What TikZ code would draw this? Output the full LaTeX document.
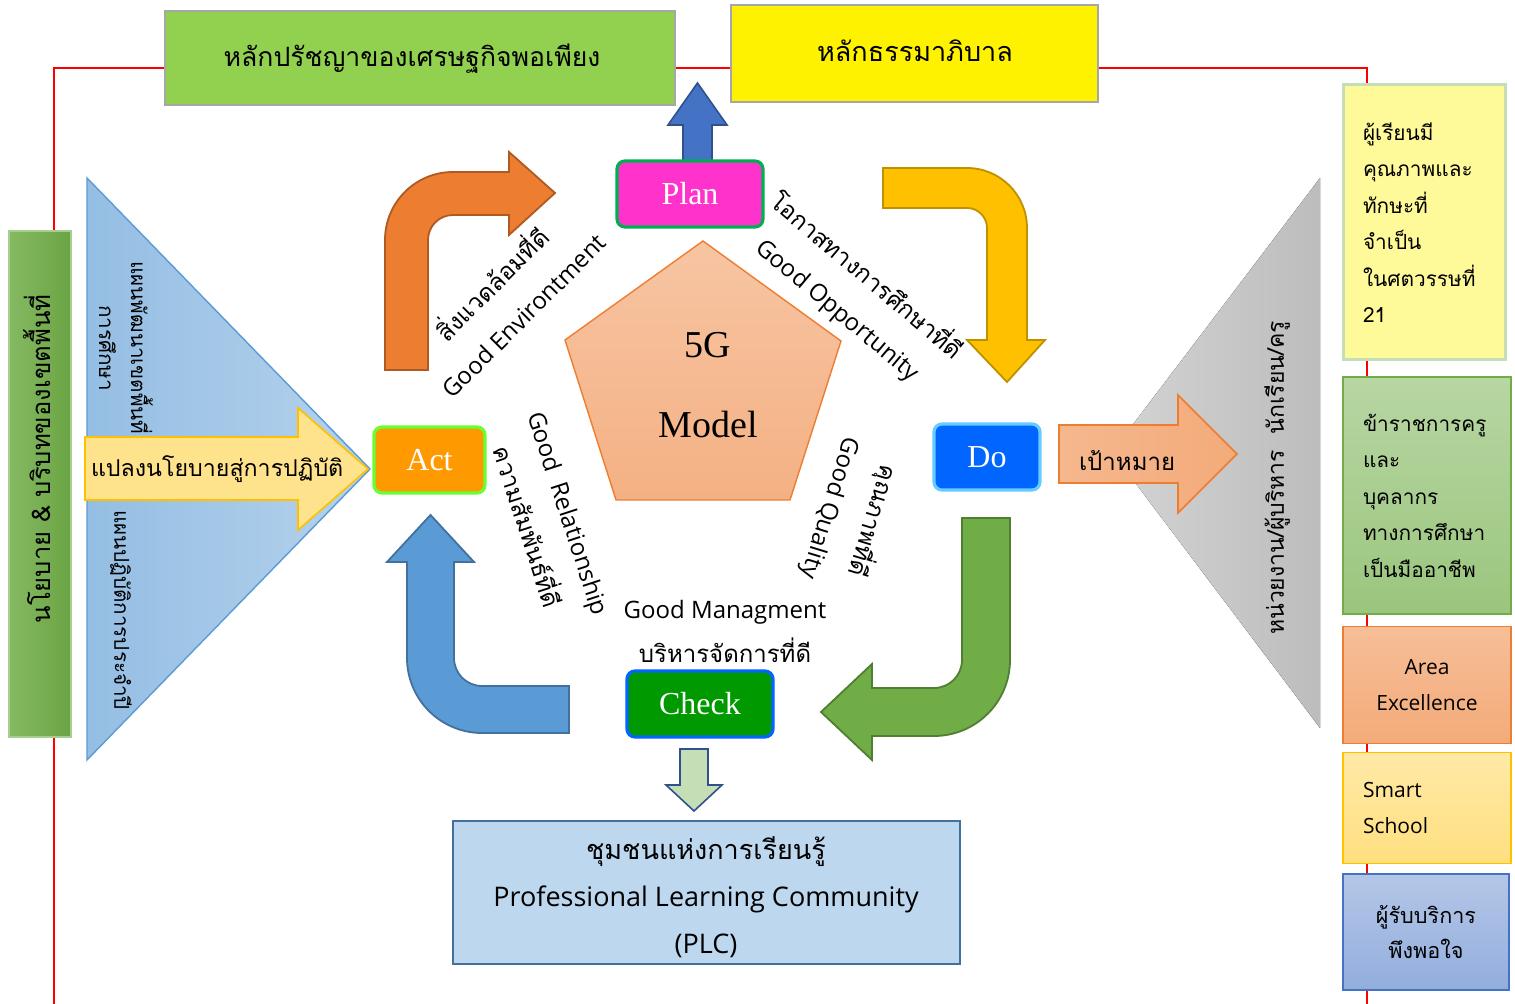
\documentclass[tikz,border=0pt]{standalone}
\usepackage{fontspec}
\setmainfont{Liberation Serif}
\newfontfamily\thaif[Script=Thai]{Loma}
\newfontfamily\latf{Open Sans}
\newcommand\myfs[2]{\fontsize{#1}{#2}\selectfont}
\usetikzlibrary{shapes.geometric}
\definecolor{topgreen}{HTML}{92D050}
\definecolor{boxgray}{HTML}{A6A6A6}
\definecolor{redline}{HTML}{FF0000}
\definecolor{plancol}{HTML}{FF33CC}
\definecolor{planbd}{HTML}{00B050}
\definecolor{actcol}{HTML}{FF9900}
\definecolor{actbd}{HTML}{66FF33}
\definecolor{docol}{HTML}{0066FF}
\definecolor{dobd}{HTML}{66CCFF}
\definecolor{checkcol}{HTML}{009900}
\definecolor{checkbd}{HTML}{0066FF}
\definecolor{orA}{HTML}{ED7D31}
\definecolor{orB}{HTML}{AE5A21}
\definecolor{yeA}{HTML}{FFC000}
\definecolor{yeB}{HTML}{BF9000}
\definecolor{grA}{HTML}{70AD47}
\definecolor{grB}{HTML}{507E32}
\definecolor{blA}{HTML}{5B9BD5}
\definecolor{blB}{HTML}{41719C}
\definecolor{buA}{HTML}{4472C4}
\definecolor{buB}{HTML}{2F528F}
\begin{document}
\begin{tikzpicture}[x=0.5pt,y=-0.5pt,
  every node/.style={inner sep=0pt, outer sep=0pt},
  tbox/.style={draw=boxgray, line width=0.8pt},
  pdca/.style={rounded corners=4pt, line width=1.6pt, text=white, font=\myfs{16}{18}},
  lab/.style={align=center, font=\myfs{12}{22}},
  thl/.style={font=\thaif\myfs{#1}{#1}},
  bent/.style={line width=0.9pt}
]
\useasboundingbox (0,0) rectangle (1515,1004);
\fill[white] (0,0) rectangle (1515,1004);

% red frame
\draw[redline, line width=1.1pt] (54,1004) -- (54,68) -- (1367,68) -- (1367,1004);

% top boxes
\node[tbox, fill=topgreen, minimum width=255pt, minimum height=47pt] (phil) at (420,58) {};
\node[thl=13.3] (philt) at (412,59) {หลักปรัชญาของเศรษฐกิจพอเพียง};
\node[tbox, fill=yellow, minimum width=183.5pt, minimum height=48.5pt] (gov) at (914.5,53.5) {};
\node[thl=13.5] (govt) at (915,51) {หลักธรรมาภิบาล};

% left green bar
\node[draw=grA!60, line width=0.8pt, left color=grA!85, right color=grA!95!black, minimum width=31pt, minimum height=253pt] (bar) at (40,484) {};
\node[rotate=90, thl=12.8] (bart) at (37,459) {นโยบาย \& บริบทของเขตพื้นที่};

% left blue triangle
\draw[draw=blA, line width=0.7pt, left color=blA!65, right color=blA!45] (87,178) -- (370,469) -- (87,760) -- cycle;
\node[rotate=-90, align=center, font=\thaif\myfs{10.3}{16}] (lt1) at (126,348) {แผนพัฒนาเขตพื้นที่\\การศึกษา};
\node[rotate=-90, thl=10.3] (lt2) at (121,610) {แผนปฏิบัติการประจำปี};

% yellow arrow in triangle
\draw[draw=yeA, line width=0.8pt, fill=yeA!45] (85,437) -- (298,437) -- (298,408) -- (368,469) -- (298,530) -- (298,500) -- (85,500) -- cycle;
\node[anchor=west, thl=11.6] (pol) at (91,469) {แปลงนโยบายสู่การปฏิบัติ};

% right gray triangle
\fill[left color=black!17, right color=black!26] (1112,452) -- (1320,178) -- (1320,728) -- cycle;
\node[rotate=90, thl=11.5] (rt) at (1277,478) {หน่วยงาน/ผู้บริหาร\ \ นักเรียน/ครู};

% pink arrow
\draw[draw=orA, line width=0.8pt, left color=orA!55, right color=orA!65] (1059,425) -- (1178,425) -- (1178,395) -- (1237,454) -- (1178,513) -- (1178,483) -- (1059,483) -- cycle;
\node[anchor=west, thl=12] (goal) at (1079,461) {เป้าหมาย};

% right boxes
\node[draw=grA!40, line width=1.5pt, fill=yellow!40, minimum width=81pt, minimum height=137.5pt, text width=61pt, align=left, font=\thaif\myfs{10.4}{18.25}] (r1) at (1424,222.5) {ผู้เรียนมี\\คุณภาพและ\\ทักษะที่\\จำเป็น\\ในศตวรรษที่\\21};
\node[draw=grA, line width=0.7pt, top color=grA!50, bottom color=grA!70, minimum width=84pt, minimum height=118.5pt, text width=64pt, align=left, font=\thaif\myfs{10.4}{18.25}] (r2) at (1427,495.5) {ข้าราชการครู\\และ\\บุคลากร\\ทางการศึกษา\\เป็นมืออาชีพ};
\node[draw=orA, line width=0.7pt, top color=orA!50, bottom color=orA!65, minimum width=84pt, minimum height=58.5pt, align=center, font=\latf\myfs{10.5}{18}] (r3) at (1427,685) {Area\\Excellence};
\node[draw=yeA, line width=0.7pt, top color=yeA!35, bottom color=yeA!50, minimum width=84pt, minimum height=55.5pt, text width=64pt, align=left, font=\latf\myfs{10.5}{18}] (r4) at (1427,808) {Smart\\School};
\node[draw=buA, line width=0.7pt, top color=buA!40, bottom color=buA!58, minimum width=83pt, minimum height=58pt, align=center, font=\thaif\myfs{10.8}{17.5}] (r5) at (1426,932) {ผู้รับบริการ\\พึงพอใจ};

% pentagon
\draw[draw=orA, line width=0.7pt, top color=orA!45, bottom color=orA!60] (703,241) -- (841,341) -- (790,500) -- (616,500) -- (565,340) -- cycle;
\node[align=center, font=\myfs{19}{40}] (model) at (708,385) {5G\\Model};

% blue up arrow (Plan -> top)
\draw[draw=buB, line width=0.8pt, fill=buA] (683,161) -- (683,125) -- (668,125) -- (697.5,83) -- (727,125) -- (712,125) -- (712,161) -- cycle;

% orange bent arrow (Act -> Plan)
\draw[bent, draw=orB, fill=orA] (385,370) -- (385,240) .. controls (385,202.4) and (415.4,172) .. (453,172) -- (509,172) -- (509,152) -- (555,193) -- (509,235) -- (509,215) -- (453,215) .. controls (439.2,215) and (428,226.2) .. (428,240) -- (428,370) -- cycle;

% yellow bent arrow (Plan -> Do)
\draw[bent, draw=yeB, fill=yeA] (883,168) -- (967,168) .. controls (1000.1,168) and (1027,194.9) .. (1027,228) -- (1027,340) -- (1045,340) -- (1007,382) -- (967,340) -- (987,340) -- (987,228) .. controls (987,217) and (978,208) .. (967,208) -- (883,208) -- cycle;

% green bent arrow (Do -> Check)
\draw[bent, draw=grB, fill=grA] (962,518) -- (1010,518) -- (1010,660) .. controls (1010,702) and (976,736) .. (934,736) -- (872,736) -- (872,760) -- (821,712) -- (872,664) -- (872,688) -- (934,688) .. controls (949.5,688) and (962,675.5) .. (962,660) -- cycle;

% blue bent arrow (Check -> Act)
\draw[bent, draw=blB, fill=blA] (569,686) -- (482,686) .. controls (466.5,686) and (454,673.5) .. (454,658) -- (454,562) -- (474,562) -- (430.5,515) -- (387,562) -- (407,562) -- (407,658) .. controls (407,699.4) and (440.6,733) .. (482,733) -- (569,733) -- cycle;

% PDCA nodes
\node[pdca, draw=planbd, fill=plancol, minimum width=73pt, minimum height=33pt] (plan) at (690,194) {Plan};
\node[pdca, draw=actbd, fill=actcol, minimum width=55.5pt, minimum height=33pt] (act) at (429.5,460) {Act};
\node[pdca, draw=dobd, fill=docol, minimum width=53pt, minimum height=33pt] (do) at (987,457) {Do};
\node[pdca, draw=checkbd, fill=checkcol, minimum width=73pt, minimum height=33pt] (check) at (700,704) {Check};

% labels
\node[lab, rotate=45] (env) at (506,298) {\thaif สิ่งแวดล้อมที่ดี\\\latf Good Environtment};
\node[lab, rotate=-40] (opp) at (853,292) {\thaif โอกาสทางการศึกษาที่ดี\\\latf Good Opportunity};
\node[lab, rotate=-72] (rel) at (548,520) {\latf Good\ \ Relationship\\\thaif ความสัมพันธ์ที่ดี};
\node[lab, rotate=-107] (qual) at (853,515) {\thaif คุณภาพที่ดี\\\latf Good Quality};
\node[lab] (man) at (725,631) {\latf Good Managment\\\thaif บริหารจัดการที่ดี};

% small down arrow (Check -> PLC)
\draw[draw=buB, line width=0.8pt, fill=grA!40] (680,749) -- (708,749) -- (708,785) -- (722,785) -- (694,811) -- (666,785) -- (680,785) -- cycle;

% PLC box
\node[draw=blB, line width=1pt, fill=blA!40, minimum width=253.5pt, minimum height=71.5pt] (plc) at (706.5,892.5) {};
\node[align=center, font=\myfs{13.5}{23.5}] (plct) at (706,897) {\thaif ชุมชนแห่งการเรียนรู้\\\latf Professional Learning Community\\\latf (PLC)};
\end{tikzpicture}
\end{document}
